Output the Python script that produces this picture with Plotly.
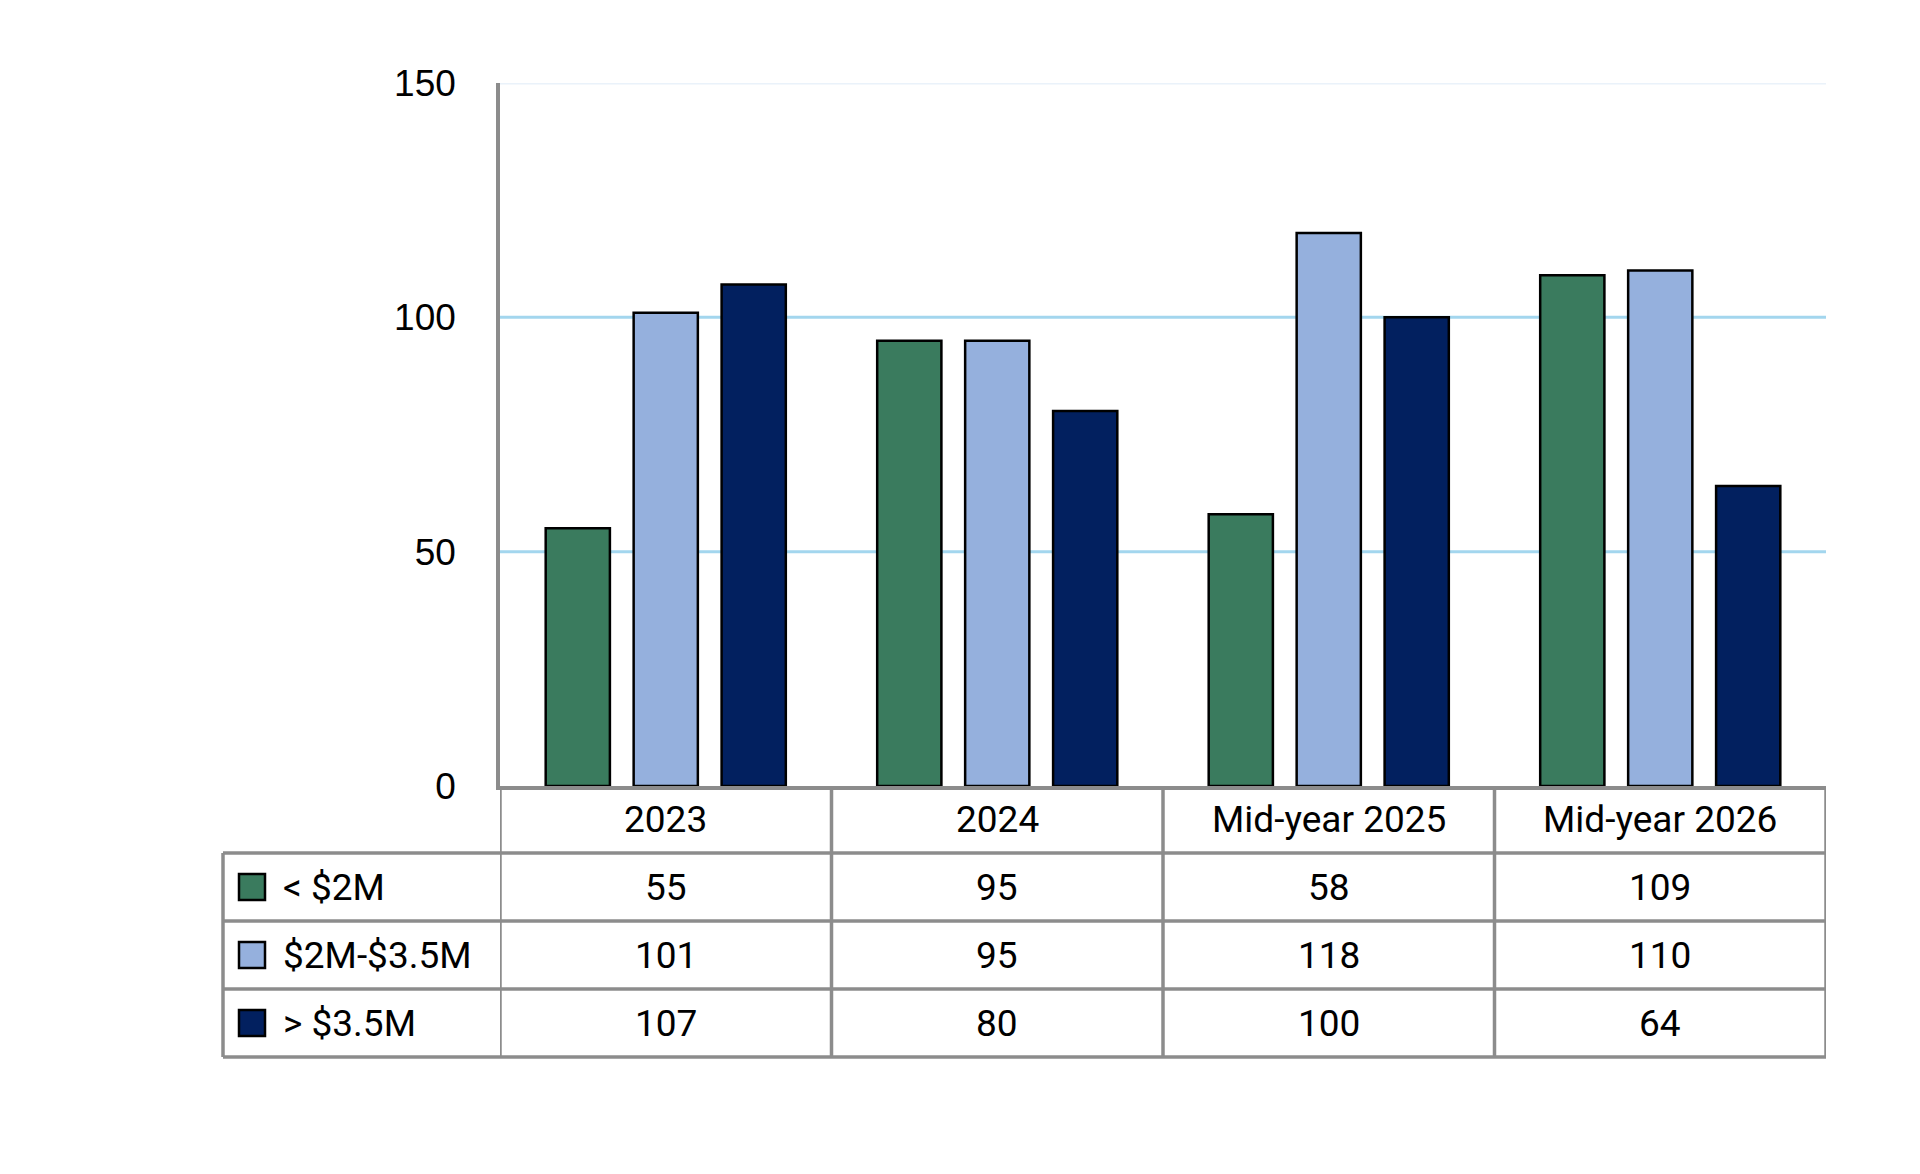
import plotly.graph_objects as go

categories = ["2023", "2024", "Mid-year 2025", "Mid-year 2026"]
series_names = ["< $2M", "$2M-$3.5M", "> $3.5M"]
under_2m = [55, 95, 58, 109]
mid_2m_35m = [101, 95, 118, 110]
over_35m = [107, 80, 100, 64]
series_values = [under_2m, mid_2m_35m, over_35m]
colors = ["#3a7b5e", "#95b0dd", "#02205f"]
y_ticks = [0, 50, 100, 150]

W, H = 1920, 1174
GRAY = "#8c8c8c"
FONT_TABLE = "Roboto"
FONT_TICK = "Liberation Sans, Arial"

def px(x):
    return x / W

def py(y):
    return 1 - y / H

plot_left, plot_right = 500, 1826
plot_top, plot_bottom = 83, 786
row_edges = [786, 853, 921, 989, 1057]
legend_left = 223

fig = go.Figure()
for name, vals, c in zip(series_names, series_values, colors):
    fig.add_trace(go.Bar(
        x=list(range(len(categories))), y=vals, name=name,
        marker=dict(color=c, line=dict(color="#000000", width=2.5)),
        showlegend=False,
    ))

shapes = []
for t in y_ticks[1:]:
    shapes.append(dict(type="line", xref="paper", yref="y",
                       x0=px(plot_left), x1=px(plot_right), y0=t, y1=t,
                       line=dict(color="#eaf2fa" if t == y_ticks[-1] else "#a3d6ee", width=3),
                       layer="below"))
n = len(categories)
for i in range(n + 1):
    shapes.append(dict(type="line", xref="x", yref="paper",
                       x0=i - 0.5, x1=i - 0.5,
                       y0=py(row_edges[0]), y1=py(row_edges[-1]),
                       line=dict(color=GRAY, width=3.5)))
shapes.append(dict(type="line", xref="paper", yref="paper",
                   x0=px(legend_left), x1=px(legend_left),
                   y0=py(row_edges[1]), y1=py(row_edges[-1]),
                   line=dict(color=GRAY, width=3.5)))
for r in row_edges[1:]:
    shapes.append(dict(type="line", xref="paper", yref="paper",
                       x0=px(legend_left), x1=px(plot_right),
                       y0=py(r), y1=py(r),
                       line=dict(color=GRAY, width=3.5)))

annotations = []
def row_center(k):
    return py((row_edges[k] + row_edges[k + 1]) / 2)

txt_font = dict(family=FONT_TABLE, size=37, color="#000000")
for i, cat in enumerate(categories):
    annotations.append(dict(x=i, y=row_center(0), xref="x", yref="paper",
                            xanchor="center", yanchor="middle",
                            text=cat, showarrow=False, font=txt_font))
for s, (name, vals, c) in enumerate(zip(series_names, series_values, colors)):
    yc = row_center(s + 1)
    for i, v in enumerate(vals):
        annotations.append(dict(x=i, y=yc, xref="x", yref="paper",
                                xanchor="center", yanchor="middle",
                                text=str(v), showarrow=False, font=txt_font))
    annotations.append(dict(x=px(281), y=yc, xref="paper", yref="paper",
                            xanchor="left", yanchor="middle",
                            text=name, showarrow=False, font=txt_font))
    ycp = (row_edges[s + 1] + row_edges[s + 2]) / 2
    shapes.append(dict(type="rect", xref="paper", yref="paper",
                       x0=px(239), x1=px(265), y0=py(ycp - 13), y1=py(ycp + 13),
                       fillcolor=c, line=dict(color="#000000", width=2.5)))

fig.update_layout(
    width=W, height=H,
    margin=dict(l=0, r=0, t=0, b=0, autoexpand=False),
    paper_bgcolor="white", plot_bgcolor="white",
    barmode="group", bargap=0.204, bargroupgap=0.27,
    shapes=shapes, annotations=annotations,
    xaxis=dict(domain=[px(plot_left), px(plot_right)], showticklabels=False,
               showline=True, linecolor=GRAY, linewidth=3.5, ticks="",
               showgrid=False, zeroline=False, range=[-0.5, n - 0.5],
               automargin=False),
    yaxis=dict(domain=[py(plot_bottom), py(plot_top)], range=[0, 150],
               tickvals=y_ticks, showgrid=False, zeroline=False,
               showline=True, linecolor=GRAY, linewidth=3.5,
               ticks="", ticklabelstandoff=33, automargin=False,
               tickfont=dict(family=FONT_TICK, size=37, color="#000000")),
)

fig.write_html("out.html", config={"displayModeBar": False},
               post_script="document.body.style.margin='0';document.body.style.overflow='hidden';")
